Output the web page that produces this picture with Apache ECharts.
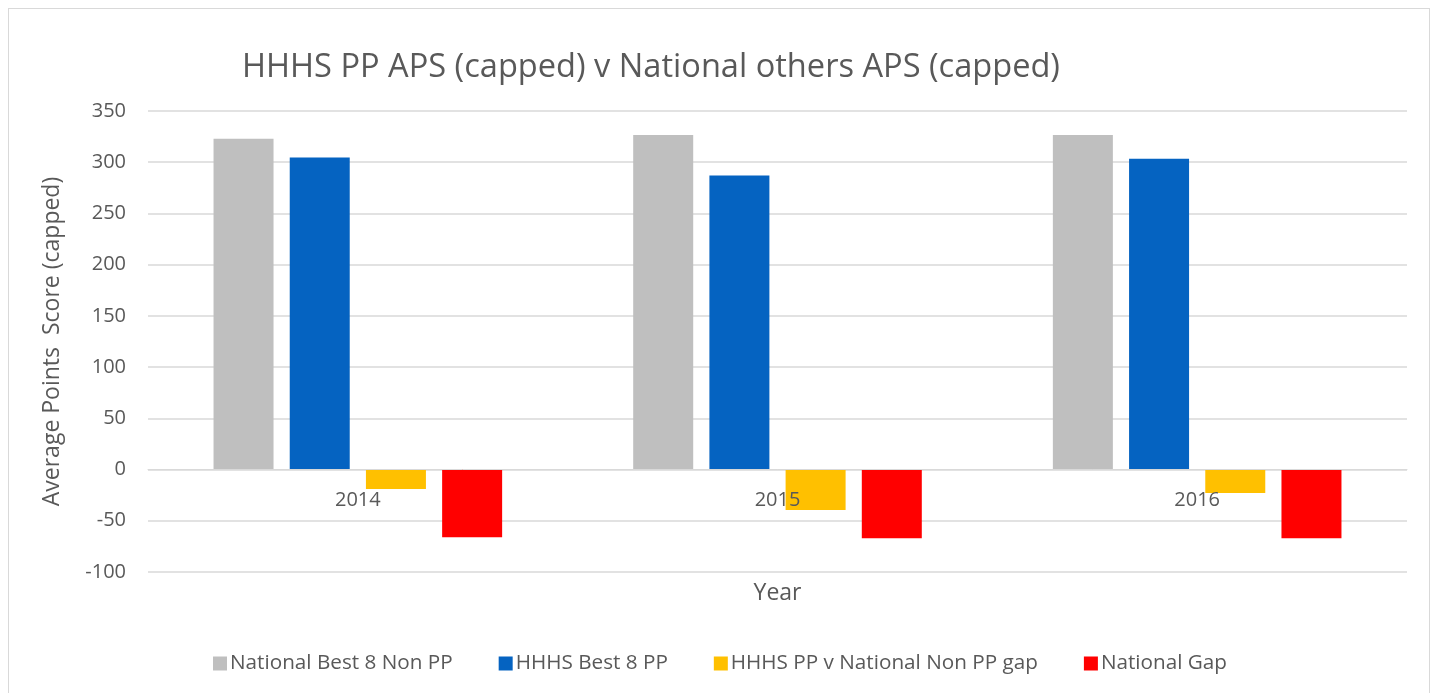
<!DOCTYPE html>
<html>
<head>
<meta charset="utf-8">
<title>HHHS PP APS (capped) v National others APS (capped)</title>
<script src="https://cdn.jsdelivr.net/npm/echarts@6/dist/echarts.min.js"></script>
<style>
    html, body { margin: 0; padding: 0; background: #fff; }
    #frame {
        position: absolute; left: 8px; top: 8px;
        width: 1422px; height: 700px;
        border: 1px solid #d9d9d9; box-sizing: border-box;
    }
    #chart { position: absolute; left: 0; top: 0; width: 1440px; height: 693px; }
</style>
</head>
<body>
<div id="frame"></div>
<div id="chart"></div>
<script>
// 数据
const years = ['2014', '2015', '2016'];
const nationalBest8NonPP = [323, 326.5, 326.5];
const hhhsBest8PP = [304.5, 287, 303.5];
const hhhsVsNationalGap = [-19, -39.5, -23];
const nationalGap = [-66, -67, -67];
const seriesNames = ['National Best 8 Non PP', 'HHHS Best 8 PP', 'HHHS PP v National Non PP gap', 'National Gap'];
const seriesColors = ['#bfbfbf', '#0563c1', '#ffc000', '#ff0000'];

const textColor = '#595959';
const fontFamily = '"Open Sans", sans-serif';

const chart = echarts.init(document.getElementById('chart'));

const seriesData = [nationalBest8NonPP, hhhsBest8PP, hhhsVsNationalGap, nationalGap];

const option = {
    animation: false,
    textStyle: { fontFamily: fontFamily, color: textColor },
    title: {
        text: 'HHHS PP APS (capped) v National others APS (capped)',
        left: 646,
        textAlign: 'center',
        top: 46,
        textStyle: { fontSize: 32.6, fontWeight: 'normal', color: textColor, fontFamily: fontFamily }
    },
    legend: {
        data: seriesNames,
        bottom: 14,
        left: 'center',
        itemWidth: 14,
        itemHeight: 14,
        itemGap: 46,
        icon: 'rect',
        textStyle: { fontSize: 20.7, color: textColor, fontFamily: fontFamily, padding: [0, 0, 0, -2] }
    },
    grid: { left: 148, right: 33, top: 111, bottom: 121, outerBoundsMode: 'none' },
    xAxis: {
        type: 'category',
        data: years,
        z: 5,
        name: 'Year',
        nameLocation: 'middle',
        nameGap: 10,
        nameTextStyle: { fontSize: 23, color: textColor },
        axisLine: { onZero: true, lineStyle: { color: '#d9d9d9' } },
        axisTick: { show: false },
        // 标签贴在 0 线下方
        axisLabel: { fontSize: 20, color: textColor, margin: -82 }
    },
    yAxis: {
        type: 'value',
        min: -100,
        max: 350,
        interval: 50,
        name: 'Average Points  Score (capped)',
        nameLocation: 'middle',
        nameGap: 84,
        nameTextStyle: { fontSize: 23, color: textColor },
        axisLine: { show: false },
        axisTick: { show: false },
        axisLabel: { fontSize: 20, color: textColor, margin: 22 },
        splitLine: { lineStyle: { color: '#d9d9d9', width: 1.5 } }
    },
    series: seriesNames.map((name, i) => ({
        name: name,
        type: 'bar',
        data: seriesData[i],
        barWidth: 60,
        barGap: '27%',
        itemStyle: { color: seriesColors[i] }
    }))
};

chart.setOption(option);
window.addEventListener('resize', () => chart.resize());
</script>
</body>
</html>
